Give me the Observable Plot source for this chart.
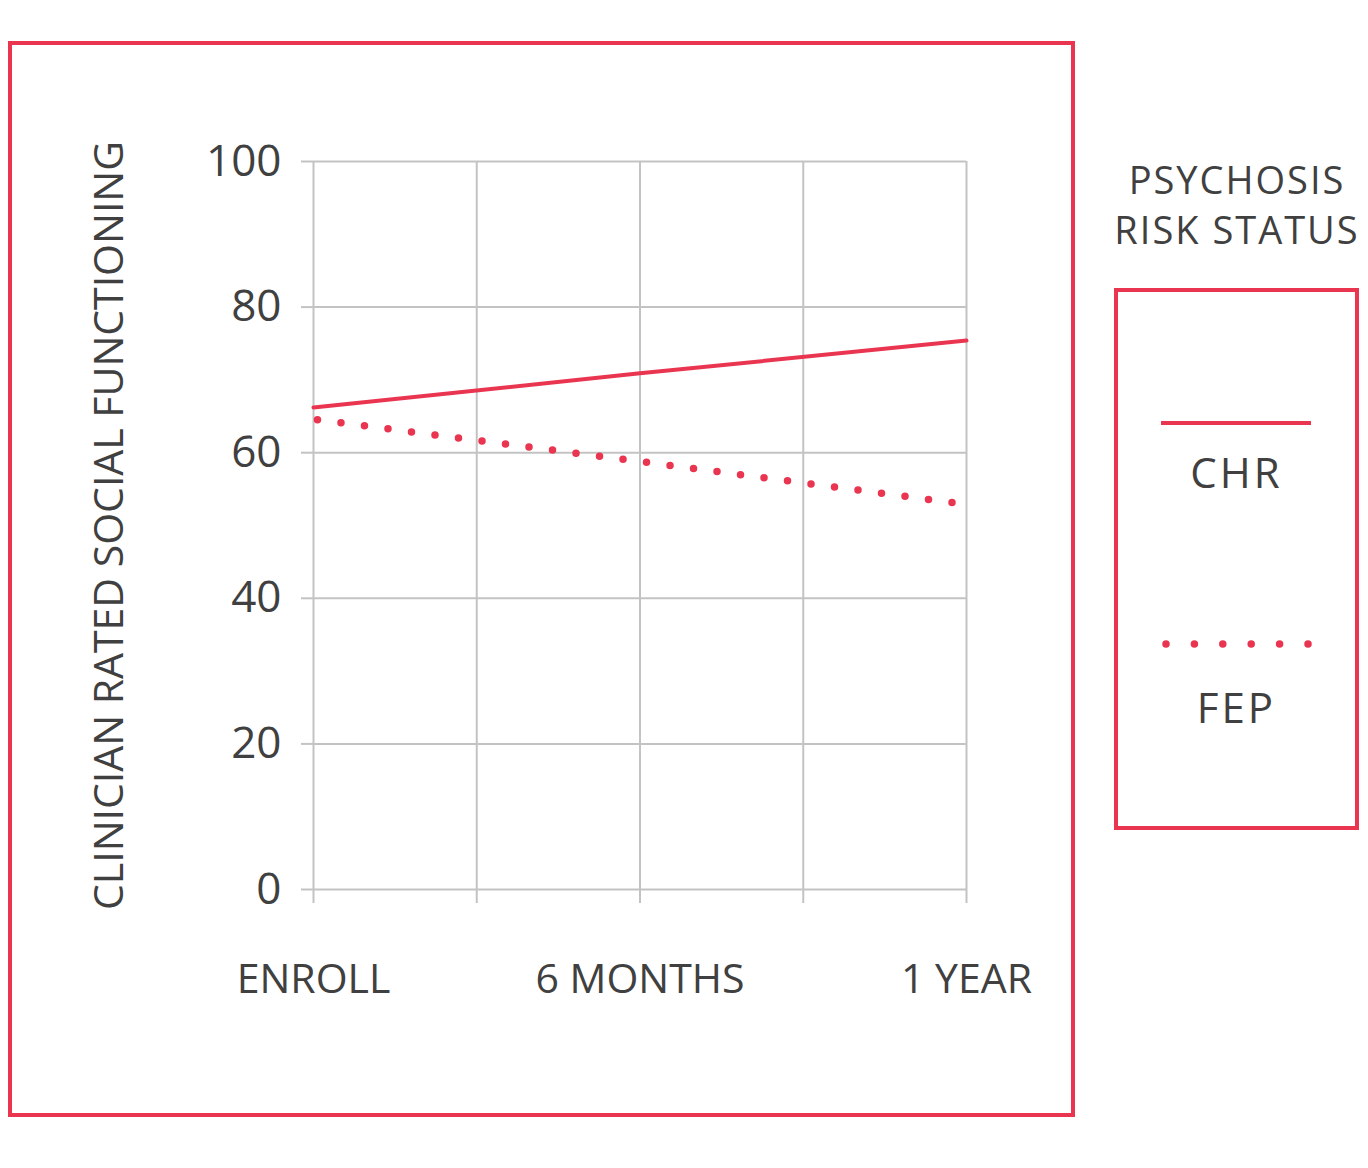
<!DOCTYPE html>
<html>
<head>
<meta charset="utf-8">
<script src="https://cdn.jsdelivr.net/npm/d3@7"></script>
<script src="https://cdn.jsdelivr.net/npm/@observablehq/plot@0.6"></script>
<style>
  html, body { margin: 0; padding: 0; background: #fff; }
  body { width: 1368px; height: 1168px; position: relative; overflow: hidden; font-family: "Open Sans", sans-serif; color: #404040; }
  #chart { position: absolute; left: 0; top: 0; }
  #frame { position: absolute; left: 8px; top: 41px; width: 1059px; height: 1068px; border: 4px solid #ea3550; }
  #legendTitle { position: absolute; left: 1100px; width: 274px; top: 154px; text-align: center; font-size: 38px; line-height: 50px; letter-spacing: 2px; }
  #legendBox { position: absolute; left: 1114px; top: 288px; width: 237px; height: 534px; border: 4px solid #ea3550; }
  .lgLabel { position: absolute; left: 0; width: 237px; text-align: center; font-size: 42px; letter-spacing: 3px; line-height: 50px; }
  #legendBox svg { position: absolute; left: 0; top: 0; }
</style>
</head>
<body>
<div id="frame"></div>
<div id="chart"></div>
<div id="legendTitle">PSYCHOSIS<br>RISK STATUS</div>
<div id="legendBox">
  <svg width="237" height="534">
    <line x1="43" x2="193" y1="131" y2="131" stroke="#ea3550" stroke-width="4"></line>
    <line x1="48" x2="190" y1="352" y2="352" stroke="#ea3550" stroke-width="7.5" stroke-linecap="round" stroke-dasharray="0 28.4"></line>
  </svg>
  <div class="lgLabel" style="top:155px">CHR</div>
  <div class="lgLabel" style="top:390px">FEP</div>
</div>
<script>
// Time points (months since enrollment) and labels
const months = [0, 6, 12];
const timeLabels = ["ENROLL", "6 MONTHS", "1 YEAR"];
const gridMonths = [0, 3, 6, 9, 12];
const yTicks = [0, 20, 40, 60, 80, 100];
const yTitle = "CLINICIAN RATED SOCIAL FUNCTIONING";

// Series values (clinician rated social functioning)
const chrValues = [66.2, 70.9, 75.4];
const fepValues = [64.6, 58.8, 52.9];

const red = "#ea3550";
const gridColor = "#c3c3c3";

const chr = months.map((m, i) => ({month: m, value: chrValues[i]}));
const fep = months.map((m, i) => ({month: m, value: fepValues[i]}));
const labelOf = new Map(months.map((m, i) => [m, timeLabels[i]]));

const plot = Plot.plot({
  width: 1368,
  height: 1168,
  marginLeft: 313,
  marginRight: 402,
  marginTop: 161,
  marginBottom: 279,
  style: {fontFamily: "'Open Sans', sans-serif", color: "#404040", background: "transparent"},
  x: {domain: [0, 12]},
  y: {domain: [0, 100]},
  marks: [
    Plot.gridY(yTicks, {stroke: gridColor, strokeOpacity: 1, strokeWidth: 2}),
    Plot.gridX(gridMonths, {stroke: gridColor, strokeOpacity: 1, strokeWidth: 2}),
    Plot.axisY(yTicks, {tickSize: 12, tickPadding: 20, stroke: gridColor, strokeOpacity: 1, strokeWidth: 2, fontSize: 44, fill: "#404040", label: null}),
    Plot.text([yTitle], {frameAnchor: "left", rotate: -90, dx: -204, fontSize: 41, fill: "#404040", textAnchor: "middle", lineAnchor: "middle"}),
    Plot.axisX(gridMonths, {tickSize: 14, stroke: gridColor, strokeOpacity: 1, strokeWidth: 2, tickFormat: () => "", label: null}),
    Plot.axisX(months, {tickSize: 0, tickPadding: 74, fontSize: 41, fill: "#404040", tickFormat: d => labelOf.get(d), label: null}),
    Plot.line(chr, {x: "month", y: "value", stroke: red, strokeWidth: 4}),
    Plot.line(fep, {x: "month", y: "value", stroke: red, strokeWidth: 7.5, strokeLinecap: "round", strokeDasharray: "0 23.7", strokeDashoffset: -4})
  ]
});
document.getElementById("chart").appendChild(plot);
</script>
</body>
</html>
